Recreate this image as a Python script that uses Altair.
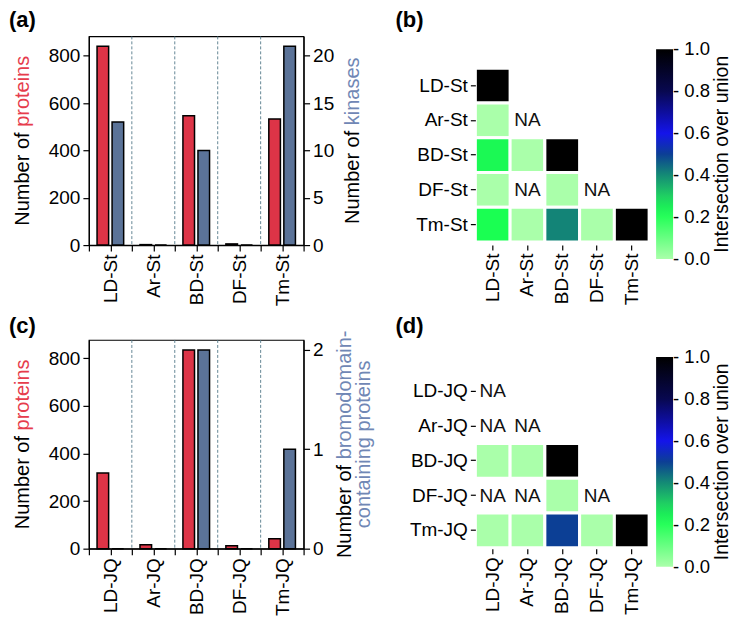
import json
import altair as alt
import pandas as pd

FONT = "Liberation Sans"
RED = "#dd3447"
BLUE = "#5b7398"
RED_T = "#e63c4c"
BLUE_T = "#7087b5"

# ---------------- data ----------------
st_labels = ["LD-St", "Ar-St", "BD-St", "DF-St", "Tm-St"]
st_proteins = [840, 2, 547, 5, 533]
st_kinases = [13, 0, 10, 0, 21]

jq_labels = ["LD-JQ", "Ar-JQ", "BD-JQ", "DF-JQ", "Tm-JQ"]
jq_proteins = [318, 17, 835, 12, 42]
jq_bromo = [0, 0, 2, 0, 1]

# lower-triangular intersection-over-union matrices (None = NA)
st_iou = [
    [1.0],
    [0.0, None],
    [0.23, 0.0, 1.0],
    [0.0, None, 0.0, None],
    [0.22, 0.0, 0.41, 0.0, 1.0],
]
jq_iou = [
    [None],
    [None, None],
    [0.0, 0.0, 1.0],
    [None, None, 0.0, None],
    [0.0, 0.0, 0.5, 0.0, 1.0],
]

iou_ticks = [0.0, 0.2, 0.4, 0.6, 0.8, 1.0]
# colormap stops (ends padded a hair so the end labels stay centred)
cmap_stops = [-0.0005, 0.22, 0.3, 0.41, 0.5, 0.6, 0.8, 1.0005]
cmap_colors = ["#aaffaa", "#1aff52", "#1fd062", "#138477", "#0c3f95",
               "#1414ea", "#080850", "#000000"]

# ---------------- helpers ----------------
AW = {" ": 278, "N": 722, "u": 556, "m": 833, "b": 556, "e": 556, "r": 333,
      "o": 556, "f": 278, "p": 556, "t": 278, "i": 222, "n": 556, "s": 500,
      "k": 500, "a": 556, "d": 556, "-": 333, "c": 500, "g": 556}


def tw(s, size):
    return sum(AW.get(ch, 556) for ch in s) / 1000.0 * size


def txt(s, x, y, color="black", size=20, angle=0, align="center",
        baseline="middle", weight="normal"):
    return alt.Chart(pd.DataFrame({"t": [s]})).mark_text(
        align=align, baseline=baseline, angle=angle, fontSize=size,
        font=FONT, color=color, fontWeight=weight
    ).encode(x=alt.value(x), y=alt.value(y), text="t:N")


def split_title(first, second, x, yc, color2, size=20):
    """Vertical (bottom-to-top) two-colour title centred at yc."""
    full = tw(first + " " + second, size)
    bottom = yc + full / 2
    split = bottom - tw(first + " ", size)
    return [
        txt(first, x, split + tw(" ", size), "black", size, 270, "right"),
        txt(second, x, split, color2, size, 270, "left"),
    ]


W_BAR, H = 215, 209


def bar_panel(labels, proteins, counts, left_max, right_max, right_vals,
              tag, right_titles):
    df = pd.DataFrame({"label": labels, "idx": list(range(len(labels))),
                       "proteins": proteins, "count": counts})
    xs = alt.Scale(domain=[-0.5, len(labels) - 0.5], nice=False, zero=False)
    tick_vals = [i * 0.5 - 0.5 for i in range(2 * len(labels) + 1)]
    x_axis = alt.Axis(values=tick_vals,
                      labelExpr=json.dumps(labels) + "[datum.value] || ''",
                      labelAngle=270, labelAlign="right", labelBaseline="middle",
                      title=None, tickSize=6, labelPadding=3)
    rules = alt.Chart(df).transform_filter("datum.idx < 4").transform_calculate(
        b="datum.idx + 0.5"
    ).mark_rule(color="#557a8a", strokeDash=[3, 2], strokeWidth=0.9).encode(
        x=alt.X("b:Q", scale=xs, axis=x_axis))
    red = alt.Chart(df).transform_calculate(
        xa="datum.idx - 0.31", xb="datum.idx - 0.04"
    ).mark_bar(color=RED, stroke="black", strokeWidth=1.5, opacity=1).encode(
        x=alt.X("xa:Q", scale=xs, axis=x_axis),
        x2="xb:Q",
        y=alt.Y("proteins:Q", scale=alt.Scale(domain=[0, left_max], nice=False),
                axis=alt.Axis(values=[0, 200, 400, 600, 800], orient="left",
                              title=None, tickSize=6, labelPadding=3,
                              labelExpr="format(datum.value, 'd')",
                              labelOverlap=False)),
        y2=alt.datum(0))
    blue = alt.Chart(df).transform_calculate(
        xa="datum.idx + 0.04", xb="datum.idx + 0.31"
    ).mark_bar(color=BLUE, stroke="black", strokeWidth=1.5, opacity=1).encode(
        x=alt.X("xa:Q", scale=xs, axis=x_axis),
        x2="xb:Q",
        y=alt.Y("count:Q", scale=alt.Scale(domain=[0, right_max], nice=False),
                axis=alt.Axis(values=right_vals, orient="right", title=None,
                              tickSize=6, labelPadding=3,
                              labelExpr="format(datum.value, 'd')",
                              labelOverlap=False)),
        y2=alt.datum(0))
    texts = [txt(tag, -80, -26 if tag == "(a)" else -24, size=22,
                 align="left", baseline="top", weight="bold")]
    texts += split_title("Number of", "proteins", -66, H / 2, RED_T)
    texts += right_titles
    return alt.layer(rules, red, blue, *texts).resolve_scale(
        y="independent").properties(
        width=W_BAR, height=H,
        view=alt.ViewBackground(stroke="black", strokeWidth=1.2))


W_HEAT = 174


def heat_panel(labels, tri, tag, legend_x, legend_y, pad_outer, align_val,
               title_y):
    rows, cols, vals = [], [], []
    for r, line in enumerate(tri):
        for c, v in enumerate(line):
            rows.append(labels[r])
            cols.append(labels[c])
            vals.append(v)
    df = pd.DataFrame({"row": rows, "col": cols, "iou": vals})
    xs = alt.Scale(domain=labels, paddingInner=0, paddingOuter=0)
    ys = alt.Scale(domain=labels, paddingInner=0, paddingOuter=pad_outer,
                   align=align_val)
    xa = alt.Axis(labelAngle=270, labelAlign="right", labelBaseline="middle",
                  domain=False, tickSize=5, title=None, labelPadding=3)
    ya = alt.Axis(domain=False, tickSize=5, title=None, labelPadding=3)
    rect = alt.Chart(df).transform_filter("isValid(datum.iou)").mark_rect(
        stroke="white", strokeWidth=3, opacity=1
    ).encode(
        x=alt.X("col:N", scale=xs, axis=xa),
        y=alt.Y("row:N", scale=ys, axis=ya),
        color=alt.Color("iou:Q",
                        scale=alt.Scale(domain=cmap_stops, range=cmap_colors,
                                        interpolate="rgb"),
                        legend=alt.Legend(
                            orient="none", legendX=legend_x, legendY=legend_y,
                            direction="vertical", gradientLength=210,
                            gradientThickness=17, values=iou_ticks,
                            labelExpr="'- ' + format(datum.value, '.1f')",
                            labelFontSize=18.5, labelOffset=0,
                            labelOverlap=False,
                            title=None, gradientStrokeWidth=0, padding=0)))
    na = alt.Chart(df).transform_filter("!isValid(datum.iou)").transform_calculate(
        t="'NA'"
    ).mark_text(fontSize=19, font=FONT, color="#111111").encode(
        x=alt.X("col:N", scale=xs, axis=xa),
        y=alt.Y("row:N", scale=ys, axis=ya),
        text="t:N")
    texts = [
        txt(tag, -80, -26 if tag == "(b)" else -24, size=22, align="left",
            baseline="top", weight="bold"),
        txt("Intersection over union", 247, title_y, size=19.5, angle=270),
    ]
    return alt.layer(rect, na, *texts).properties(
        width=W_HEAT, height=H,
        view=alt.ViewBackground(stroke="transparent"))


A = bar_panel(st_labels, st_proteins, st_kinases, 882, 22.05,
              [0, 5, 10, 15, 20], "(a)",
              split_title("Number of", "kinases", 264, H / 2, BLUE_T))

line1 = split_title("Number of", "bromodomain-", 256, H / 2, BLUE_T)
line2 = [txt("containing proteins", 276, H / 2, BLUE_T, 20, 270)]
C = bar_panel(jq_labels, jq_proteins, jq_bromo, 877, 2.1, [0, 1, 2], "(c)",
              line1 + line2)

B = heat_panel(st_labels, st_iou, "(b)", 181, 13, 0.503, 0.914, 118)
D = heat_panel(jq_labels, jq_iou, "(d)", 181, 17, 0.503, 0.971, 122)

chart = alt.concat(
    A, B, C, D, columns=2, spacing={"row": 95, "column": 172},
    bounds="flush", padding=0
).resolve_scale(
    color="independent"
).resolve_legend(
    color="independent"
).configure_axis(
    labelFont=FONT, labelFontSize=19, labelColor="black", tickColor="black",
    domainColor="black", tickWidth=1.2, domainWidth=1.2, grid=False
).configure_legend(
    labelFont=FONT, labelColor="black"
)

chart.save("out.html", embed_options={"renderer": "svg", "actions": False})
